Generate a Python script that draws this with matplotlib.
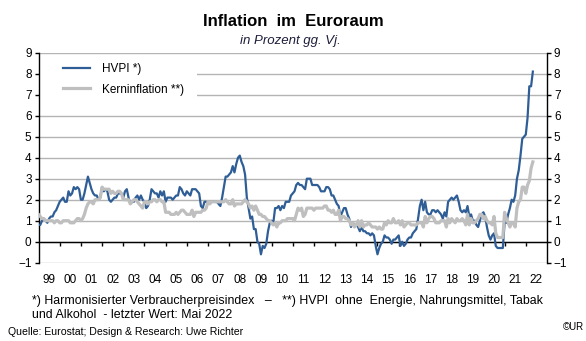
import numpy as np
import pandas as pd
import matplotlib
matplotlib.use('Agg')
import matplotlib.pyplot as plt
from matplotlib.ticker import FixedLocator, FixedFormatter, NullFormatter, MultipleLocator
from matplotlib.patches import Rectangle
from matplotlib.transforms import blended_transform_factory

plt.rcParams['font.family'] = ['Liberation Sans', 'DejaVu Sans']

# Euroraum, Veraenderung gg. Vorjahr in %, Jan 1999 - Mai 2022
hvpi = [
    0.8, 0.8, 1.0, 1.1, 1.0, 0.9, 1.1, 1.2, 1.2, 1.4, 1.5, 1.7,   # 1999
    1.9, 2.0, 2.1, 1.9, 1.9, 2.4, 2.2, 2.3, 2.6, 2.5, 2.6, 2.5,   # 2000
    2.0, 2.0, 2.3, 2.7, 3.1, 2.8, 2.5, 2.3, 2.2, 2.2, 2.0, 2.1,   # 2001
    2.6, 2.4, 2.5, 2.4, 2.0, 1.9, 2.0, 2.1, 2.1, 2.3, 2.3, 2.3,   # 2002
    2.1, 2.4, 2.5, 2.1, 1.8, 1.9, 1.9, 2.1, 2.2, 2.0, 2.2, 2.0,   # 2003
    1.9, 1.6, 1.7, 2.0, 2.5, 2.4, 2.3, 2.3, 2.1, 2.4, 2.2, 2.4,   # 2004
    1.9, 2.1, 2.1, 2.1, 2.0, 2.1, 2.2, 2.2, 2.6, 2.5, 2.3, 2.2,   # 2005
    2.4, 2.3, 2.2, 2.5, 2.5, 2.5, 2.4, 2.3, 1.7, 1.6, 1.9, 1.9,   # 2006
    1.8, 1.8, 1.9, 1.9, 1.9, 1.9, 1.8, 1.7, 2.1, 2.6, 3.1, 3.1,   # 2007
    3.2, 3.3, 3.6, 3.3, 3.7, 4.0, 4.1, 3.8, 3.6, 3.2, 2.1, 1.6,   # 2008
    1.1, 1.2, 0.6, 0.6, 0.0, -0.1, -0.6, -0.2, -0.3, -0.1, 0.5, 0.9,  # 2009
    1.0, 0.9, 1.6, 1.6, 1.7, 1.5, 1.7, 1.6, 1.9, 1.9, 1.9, 2.2,   # 2010
    2.3, 2.4, 2.7, 2.8, 2.7, 2.7, 2.6, 2.5, 3.0, 3.0, 3.0, 2.7,   # 2011
    2.7, 2.7, 2.7, 2.6, 2.4, 2.4, 2.4, 2.6, 2.6, 2.5, 2.2, 2.2,   # 2012
    2.0, 1.8, 1.7, 1.2, 1.4, 1.6, 1.6, 1.3, 1.1, 0.7, 0.9, 0.8,   # 2013
    0.8, 0.7, 0.5, 0.7, 0.5, 0.5, 0.4, 0.4, 0.3, 0.4, 0.3, -0.2,  # 2014
    -0.6, -0.3, -0.1, 0.0, 0.3, 0.2, 0.2, 0.1, -0.1, 0.1, 0.1, 0.2,  # 2015
    0.3, -0.2, 0.0, -0.2, -0.1, 0.1, 0.2, 0.2, 0.4, 0.5, 0.6, 1.1,  # 2016
    1.7, 2.0, 1.5, 1.9, 1.4, 1.3, 1.3, 1.5, 1.5, 1.4, 1.5, 1.4,   # 2017
    1.3, 1.1, 1.4, 1.2, 1.9, 2.0, 2.1, 2.0, 2.1, 2.2, 1.9, 1.5,   # 2018
    1.4, 1.5, 1.4, 1.7, 1.2, 1.3, 1.0, 1.0, 0.8, 0.7, 1.0, 1.3,   # 2019
    1.4, 1.2, 0.7, 0.3, 0.1, 0.3, 0.4, -0.2, -0.3, -0.3, -0.3, -0.3,  # 2020
    0.9, 0.9, 1.3, 1.6, 2.0, 1.9, 2.2, 3.0, 3.4, 4.1, 4.9, 5.0,   # 2021
    5.1, 5.9, 7.4, 7.4, 8.1,                                      # 2022
]

kern = [
    1.3, 1.2, 1.1, 1.1, 1.0, 1.0, 1.0, 1.0, 1.0, 0.9, 1.0, 1.0,   # 1999
    0.9, 0.9, 1.0, 1.0, 1.0, 1.0, 0.9, 0.9, 0.9, 1.0, 1.1, 1.1,   # 2000
    1.0, 1.1, 1.3, 1.6, 1.8, 1.9, 1.9, 1.8, 2.0, 2.0, 2.0, 2.1,   # 2001
    2.6, 2.5, 2.5, 2.5, 2.5, 2.3, 2.4, 2.3, 2.3, 2.4, 2.4, 2.3,   # 2002
    2.0, 2.0, 2.0, 2.0, 1.8, 1.9, 2.0, 2.0, 1.9, 1.8, 1.7, 1.6,   # 2003
    1.9, 1.9, 1.8, 1.9, 1.9, 2.0, 2.0, 1.9, 2.0, 2.0, 1.9, 1.9,   # 2004
    1.4, 1.4, 1.4, 1.3, 1.3, 1.3, 1.4, 1.3, 1.4, 1.5, 1.5, 1.4,   # 2005
    1.3, 1.3, 1.3, 1.5, 1.2, 1.4, 1.4, 1.4, 1.4, 1.5, 1.5, 1.6,   # 2006
    1.9, 1.8, 1.9, 1.9, 1.9, 1.9, 1.9, 1.9, 1.9, 1.9, 2.0, 1.9,   # 2007
    1.8, 1.8, 2.0, 1.7, 1.8, 1.8, 1.8, 1.8, 1.9, 2.0, 1.9, 1.8,   # 2008
    1.6, 1.7, 1.5, 1.7, 1.5, 1.3, 1.3, 1.2, 1.2, 1.1, 1.0, 1.0,   # 2009
    0.9, 0.8, 0.9, 0.7, 0.9, 0.9, 1.0, 1.0, 1.0, 1.1, 1.1, 1.1,   # 2010
    1.1, 1.0, 1.3, 1.6, 1.5, 1.6, 1.2, 1.3, 1.6, 1.6, 1.6, 1.6,   # 2011
    1.5, 1.6, 1.6, 1.6, 1.6, 1.6, 1.7, 1.7, 1.5, 1.5, 1.4, 1.5,   # 2012
    1.3, 1.3, 1.5, 1.0, 1.2, 1.2, 1.1, 1.1, 1.0, 0.8, 0.9, 0.7,   # 2013
    0.8, 1.0, 0.7, 1.0, 0.7, 0.8, 0.8, 0.9, 0.8, 0.7, 0.7, 0.7,   # 2014
    0.6, 0.7, 0.6, 0.6, 0.9, 0.8, 1.0, 0.9, 0.9, 1.1, 0.9, 0.9,   # 2015
    1.0, 0.8, 1.0, 0.7, 0.8, 0.9, 0.9, 0.8, 0.8, 0.8, 0.8, 0.9,   # 2016
    0.9, 0.9, 0.7, 1.2, 0.9, 1.1, 1.2, 1.2, 1.1, 0.9, 0.9, 0.9,   # 2017
    1.0, 1.0, 1.0, 0.7, 1.1, 0.9, 1.1, 1.0, 0.9, 1.1, 1.0, 1.0,   # 2018
    1.1, 1.0, 0.8, 1.3, 0.8, 1.1, 0.9, 0.9, 1.0, 1.1, 1.3, 1.3,   # 2019
    1.1, 1.2, 1.0, 0.9, 0.9, 0.8, 1.2, 0.4, 0.2, 0.2, 0.2, 0.2,   # 2020
    1.4, 1.1, 0.9, 0.7, 0.9, 0.9, 0.7, 1.6, 1.9, 2.0, 2.6, 2.6,   # 2021
    2.3, 2.7, 2.9, 3.5, 3.8,                                      # 2022
]

years = list(range(1999, 2023))
year_labels = [f'{y % 100:02d}' for y in years]

months = pd.date_range('1999-01-01', periods=len(hvpi), freq='MS')
t = months.year + (months.month - 1) / 12

blue = '#2F5E97'
grey = '#BFBFBF'

fig = plt.figure(figsize=(5.86, 3.41), dpi=100)
ax = fig.add_axes([0.0657, 0.2296, 0.8677, 0.6159])

ax.plot(t, hvpi, color=blue, lw=1.6, label='HVPI *)', zorder=3)
ax.plot(t, kern, color=grey, lw=2.3, label='Kerninflation **)', zorder=3.1)

ax.set_xlim(1999, 2023)
ax.set_ylim(-1, 9)

# Achsen: Nulllinie als x-Achse, Jahreszahlen unten
ax.spines['top'].set_visible(False)
ax.spines['bottom'].set_position(('data', 0))
for s in ('left', 'right', 'bottom'):
    ax.spines[s].set_linewidth(1)
    ax.spines[s].set_color('black')

ax.xaxis.set_major_locator(FixedLocator(range(2000, 2023)))
ax.xaxis.set_major_formatter(NullFormatter())
ax.xaxis.set_minor_locator(FixedLocator([y + 0.5 for y in years]))
ax.xaxis.set_minor_formatter(FixedFormatter(year_labels))
ax.tick_params(axis='x', which='major', direction='out', length=2.8, width=1)
ax.tick_params(axis='x', which='minor', length=0, pad=23, labelsize=8.5)

ax.yaxis.set_major_locator(MultipleLocator(1))
ax.tick_params(axis='y', left=True, right=True, labelleft=True, labelright=True,
               direction='out', length=3, width=1, labelsize=8.5, pad=2)

ax.set_axisbelow(True)
ax.grid(axis='y', color='#B4B4B4', lw=1)

# weisser Hintergrund hinter der Legende
tr = blended_transform_factory(ax.transAxes, ax.transData)
ax.add_patch(Rectangle((0, 6.5), 0.312, 2.3, transform=tr, facecolor='white',
                       edgecolor='none', zorder=1.5))

ax.legend(loc='upper left', bbox_to_anchor=(0.039, 0.975), frameon=False,
          fontsize=8.5, handlelength=2.3, handletextpad=1.0, labelspacing=0.75,
          borderpad=0.4, borderaxespad=0)

fig.text(0.5, 1 - 22 / 341, 'Inflation  im  Euroraum', ha='center', va='center',
         fontsize=12, fontweight='bold')
fig.text(0.495, 1 - 41 / 341, 'in Prozent gg. Vj.', ha='center', va='center',
         fontsize=9.5, style='italic', color='#1E1E3C')

fig.text(32 / 586, 1 - 301 / 341,
         '*) Harmonisierter Verbraucherpreisindex   \u2013   **) HVPI  ohne  Energie, Nahrungsmittel, Tabak',
         ha='left', va='center', fontsize=8.9)
fig.text(32 / 586, 1 - 315.5 / 341, 'und Alkohol  - letzter Wert: Mai 2022',
         ha='left', va='center', fontsize=8.9)
fig.text(8 / 586, 1 - 332 / 341, 'Quelle: Eurostat; Design & Research: Uwe Richter',
         ha='left', va='center', fontsize=7.6)
fig.text(584 / 586, 1 - 327 / 341, '\u00a9UR', ha='right', va='center', fontsize=7)

fig.savefig('out.png', dpi=100)
